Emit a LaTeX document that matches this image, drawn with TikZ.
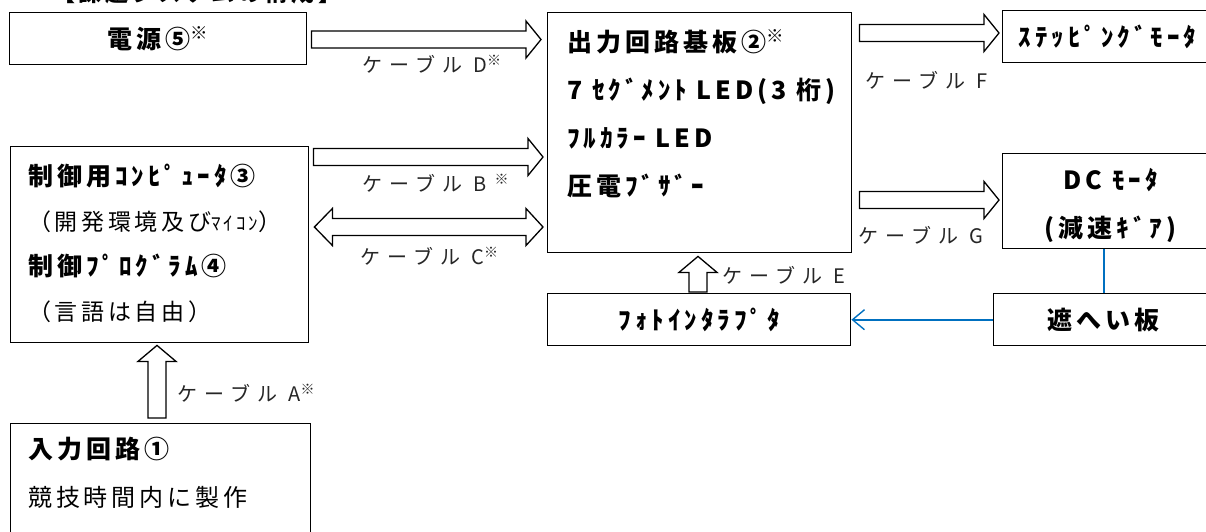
\documentclass[tikz,border=0pt]{standalone}
\usepackage{fontspec}
\setmainfont{Noto Sans CJK JP}[LetterSpace=16]
\newfontfamily\lblfont{Noto Sans CJK JP}[LetterSpace=35]
\usetikzlibrary{positioning,calc,arrows.meta}
\definecolor{linkblue}{RGB}{0,112,192}

% hollow block arrows
\newcommand{\fatR}[5]{%
  \draw[fat] let \p1=($(#1.east |- 0,#3)+(#4,0)$), \p2=($(#2.west |- 0,#3)-(#5,0)$) in
    (\x1,\y1+8.5pt) -- (\x2-15pt,\y1+8.5pt) -- (\x2-15pt,\y1+18.5pt) -- (\p2)
    -- (\x2-15pt,\y1-18.5pt) -- (\x2-15pt,\y1-8.5pt) -- (\x1,\y1-8.5pt) -- cycle;}
\newcommand{\fatLR}[5]{%
  \draw[fat] let \p1=($(#1.east |- 0,#3)+(#4,0)$), \p2=($(#2.west |- 0,#3)-(#5,0)$) in
    (\p1) -- (\x1+18pt,\y1+18.5pt) -- (\x1+18pt,\y1+8.5pt) -- (\x2-17pt,\y1+8.5pt)
    -- (\x2-17pt,\y1+18.5pt) -- (\p2) -- (\x2-17pt,\y1-18.5pt) -- (\x2-17pt,\y1-8.5pt)
    -- (\x1+18pt,\y1-8.5pt) -- (\x1+18pt,\y1-18.5pt) -- cycle;}
\newcommand{\fatU}[5]{%
  \draw[fat] let \p1=($(#1.north -| #3,0)-(0,#4)$), \p2=($(#2.south -| #3,0)+(0,#5)$) in
    (\x1-9pt,\y1) -- (\x1-9pt,\y2-16pt) -- (\x1-19pt,\y2-16pt) -- (\p2)
    -- (\x1+19pt,\y2-16pt) -- (\x1+9pt,\y2-16pt) -- (\x1+9pt,\y1) -- cycle;}

\begin{document}
\begin{tikzpicture}[x=1pt, y=-1pt,
    box/.style={draw, line width=1.4pt, anchor=north west, inner sep=0pt},
    bold/.style={font=\fontsize{25}{48}\selectfont\bfseries},
    lbl/.style={font=\lblfont\fontsize{20}{24}\selectfont, text=black!85, anchor=west, inner sep=0pt},
    fat/.style={line width=1.3pt, fill=white, line join=miter},
    link/.style={draw=linkblue, line width=1.6pt}]
  \useasboundingbox (0,0) rectangle (1206,531);

  % title (cut at the top edge)
  \node[anchor=base west, inner sep=0pt, font=\fontsize{23}{23}\selectfont\bfseries] (title) at (52,1) {【課題システムの構成】};

  % Boxes
  \node[box, bold, minimum width=297pt, minimum height=52pt] (pwr) at (9,12) {電源⑤\textsuperscript{※}};
  \node[box, minimum width=304pt, minimum height=240pt] (out) at (547,12) {};
  \node[box, bold, minimum width=210pt, minimum height=52pt] (step) at (1002,10) {ｽﾃｯﾋﾟﾝｸﾞﾓｰﾀ};
  \node[box, minimum width=298pt, minimum height=196pt] (ctrl) at (10,146) {};
  \node[box, minimum width=300pt, minimum height=140pt] (inp) at (10,423) {};
  \node[box, minimum width=216pt, minimum height=95pt] (dc) at (1002,153) {};
  \node[box, bold, minimum width=303pt, minimum height=52pt] (photo) at (547,293) {ﾌｫﾄｲﾝﾀﾗﾌﾟﾀ};
  \node[box, bold, minimum width=220pt, minimum height=52pt] (shield) at (993,293) {遮へい板};

  % Box texts
  \node[bold, align=left, inner sep=0pt, below right=17pt and 20pt of out.north west] (outtxt)
    {出力回路基板②\textsuperscript{※}\\7 ｾｸﾞﾒﾝﾄ LED(3 桁)\\ﾌﾙｶﾗｰ LED\\圧電ﾌﾞｻﾞｰ};
  \node[bold, font=\fontsize{25}{45}\selectfont\bfseries, align=left, inner sep=0pt,
        below right=18pt and 18pt of ctrl.north west] (ctrltxt)
    {制御用ｺﾝﾋﾟｭｰﾀ③\\{\mdseries\fontsize{23}{23}\selectfont （開発環境及び{\fontsize{19}{19}\selectfont ﾏｲｺﾝ}）}\\
     制御ﾌﾟﾛｸﾞﾗﾑ④\\{\mdseries\fontsize{23}{23}\selectfont （言語は自由）}};
  \node[bold, align=left, inner sep=0pt, below right=14pt and 18pt of inp.north west] (inptxt)
    {入力回路①\\{\mdseries\fontsize{24}{24}\selectfont 競技時間内に製作}};
  \node[bold, align=center, inner sep=0pt, below=15pt of dc.north] (dctxt)
    {DC ﾓｰﾀ\\(減速ｷﾞｱ)};

  % Cables
  \fatR{pwr}{out}{39.5}{4}{6}
  \fatR{ctrl}{out}{157}{4}{4}
  \fatLR{ctrl}{out}{227}{5}{4}
  \fatR{out}{step}{33}{7}{3}
  \fatR{out}{dc}{200}{7}{3}
  \fatU{photo}{out}{698}{1}{3}
  \fatU{inp}{ctrl}{157}{5}{2}

  \node[lbl] (labD) at (362,64) {ケーブル D\textsuperscript{※}};
  \node[lbl] (labB) at (362,183) {ケーブル B\textsuperscript{ ※}};
  \node[lbl] (labC) at (360,256) {ケーブル C\textsuperscript{※}};
  \node[lbl] (labF) at (865,80) {ケーブル F};
  \node[lbl] (labG) at (858,235) {ケーブル G};
  \node[lbl] (labE) at (722,275) {ケーブル E};
  \node[lbl] (labA) at (177,393) {ケーブル A\textsuperscript{※}};

  % shutter
  \draw[link] (shield.north |- dc.south) -- (shield.north);
  \draw[link, -{Straight Barb[length=12pt, width=20pt, line width=1.4pt]}] (shield.west) -- (photo.east);
\end{tikzpicture}
\end{document}
